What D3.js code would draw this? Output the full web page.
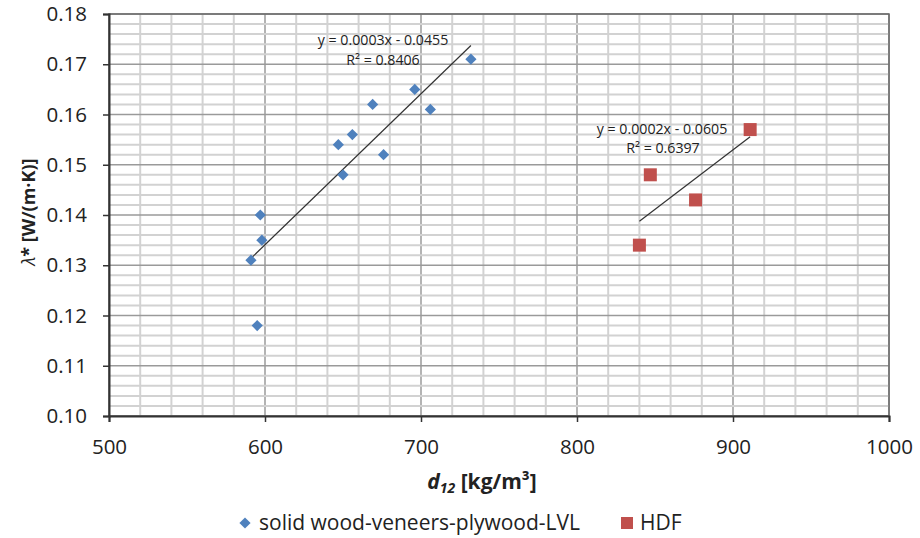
<!DOCTYPE html>
<html><head><meta charset="utf-8">
<script src="https://cdn.jsdelivr.net/npm/d3@7"></script>
<style>body{margin:0;background:#fff}svg{display:block}</style>
</head><body>
<svg id="c" width="920" height="538"></svg>
<script>
const woodX = [591, 598, 597, 595, 650, 647, 656, 669, 676, 696, 706, 732];
const woodY = [0.131, 0.135, 0.140, 0.118, 0.148, 0.154, 0.156, 0.162, 0.152, 0.165, 0.161, 0.171];
const hdfX = [911, 847, 876, 840];
const hdfY = [0.157, 0.148, 0.143, 0.134];
const seriesNames = ["solid wood-veneers-plywood-LVL", "HDF"];
const xTicks = [500, 600, 700, 800, 900, 1000];
const yTicks = [0.10, 0.11, 0.12, 0.13, 0.14, 0.15, 0.16, 0.17, 0.18];
const eqLabels = [["y = 0.0003x - 0.0455", "R² = 0.8406"], ["y = 0.0002x - 0.0605", "R² = 0.6397"]];

const svg = d3.select("#c");
const L = 109, R = 889, T = 14, B = 416;
const x = d3.scaleLinear().domain([500, 1000]).range([L, R]);
const y = d3.scaleLinear().domain([0.10, 0.18]).range([B, T]);
const font = "'Open Sans', sans-serif";

// grid
const g = svg.append("g");
const minorX = d3.range(500, 1001, 20);
const minorY = d3.range(0, 41).map(i => 0.10 + i * 0.002);
g.selectAll(".vx").data(minorX).enter().append("line")
  .attr("x1", d => x(d)).attr("x2", d => x(d)).attr("y1", T).attr("y2", B)
  .attr("stroke", d => d % 100 === 0 ? "#9a9a9a" : "#d2d2d2").attr("stroke-width", d => d % 100 === 0 ? 1.5 : 2);
g.selectAll(".hy").data(minorY).enter().append("line")
  .attr("x1", L).attr("x2", R).attr("y1", d => y(d)).attr("y2", d => y(d))
  .attr("stroke", (d, i) => i % 5 === 0 ? "#9a9a9a" : "#d2d2d2").attr("stroke-width", (d, i) => i % 5 === 0 ? 1.5 : 2);

// border
svg.append("rect").attr("x", L).attr("y", T).attr("width", R - L).attr("height", B - T)
  .attr("fill", "none").attr("stroke", "#6a6a6a").attr("stroke-width", 1.5);

// axes
const xa = svg.append("g").attr("transform", `translate(0,${B})`)
  .call(d3.axisBottom(x).tickValues(xTicks).tickSize(6).tickPadding(17).tickFormat(d3.format("d")));
const ya = svg.append("g").attr("transform", `translate(${L},0)`)
  .call(d3.axisLeft(y).tickValues(yTicks).tickSize(6).tickPadding(16).tickFormat(d3.format(".2f")));
[xa, ya].forEach(a => {
  a.select(".domain").attr("stroke", "#333").attr("stroke-width", 2);
  a.selectAll(".tick line").attr("stroke", "#333").attr("stroke-width", 1.5);
  a.selectAll("text").attr("font-family", font).attr("font-size", 20.5).attr("fill", "#222");
});

// trendlines
function fit(xs, ys) {
  const mx = d3.mean(xs), my = d3.mean(ys);
  let sxy = 0, sxx = 0;
  xs.forEach((v, i) => { sxy += (v - mx) * (ys[i] - my); sxx += (v - mx) ** 2; });
  const m = sxy / sxx, b = my - m * mx;
  const [x0, x1] = d3.extent(xs);
  return [[x0, m * x0 + b], [x1, m * x1 + b]];
}
const line = d3.line().x(d => x(d[0])).y(d => y(d[1]));
[[woodX, woodY], [hdfX, hdfY]].forEach(([xs, ys]) => {
  svg.append("path").attr("d", line(fit(xs, ys))).attr("stroke", "#333").attr("stroke-width", 1.2).attr("fill", "none");
});

// points
const wood = woodX.map((v, i) => [v, woodY[i]]);
const hdf = hdfX.map((v, i) => [v, hdfY[i]]);
svg.selectAll(".w").data(wood).enter().append("path")
  .attr("d", d3.symbol(d3.symbolDiamond2, 80))
  .attr("transform", d => `translate(${x(d[0])},${y(d[1])})`).attr("fill", "#4F81BD");
svg.selectAll(".h").data(hdf).enter().append("rect")
  .attr("x", d => x(d[0]) - 6.5).attr("y", d => y(d[1]) - 6.5).attr("width", 13).attr("height", 13)
  .attr("fill", "#C0504D");

// equation labels
const eqPos = [[383, 40, 383, 60], [662, 129, 663, 148]];
eqLabels.forEach((lb, i) => {
  const p = eqPos[i];
  svg.append("text").attr("x", p[0]).attr("y", p[1]).attr("dy", "0.35em")
    .attr("text-anchor", "middle").attr("font-family", font).attr("font-size", 14.2).attr("fill", "#222").text(lb[0]);
  svg.append("text").attr("x", p[2]).attr("y", p[3]).attr("dy", "0.35em")
    .attr("text-anchor", "middle").attr("font-family", font).attr("font-size", 14.2).attr("fill", "#222").text(lb[1]);
});

// axis titles
const xt = svg.append("text").attr("x", 482).attr("y", 489).attr("text-anchor", "middle")
  .attr("font-family", font).attr("font-size", 21).attr("font-weight", "bold").attr("fill", "#222");
xt.append("tspan").attr("font-style", "italic").text("d");
xt.append("tspan").attr("font-style", "italic").attr("font-size", 14).attr("dy", 4).text("12");
xt.append("tspan").attr("dy", -4).text(" [kg/m³]");

const yt = svg.append("text").attr("transform", "translate(35,212) rotate(-90)").attr("text-anchor", "middle")
  .attr("font-family", font).attr("font-size", 18).attr("font-weight", "bold").attr("fill", "#222");
yt.append("tspan").attr("font-style", "italic").attr("font-weight", "normal").text("λ");
yt.append("tspan").text("* [W/(m·K)]");

// legend
svg.append("path").attr("d", d3.symbol(d3.symbolDiamond2, 80)).attr("transform", "translate(245,523)").attr("fill", "#4F81BD");
svg.append("text").attr("x", 259).attr("y", 523).attr("dy", "0.35em").attr("font-family", font).attr("font-size", 21).attr("fill", "#222").text(seriesNames[0]);
svg.append("rect").attr("x", 621).attr("y", 517).attr("width", 12).attr("height", 12).attr("fill", "#C0504D");
svg.append("text").attr("x", 640).attr("y", 523).attr("dy", "0.35em").attr("font-family", font).attr("font-size", 21).attr("fill", "#222").text(seriesNames[1]);
</script>
</body></html>
